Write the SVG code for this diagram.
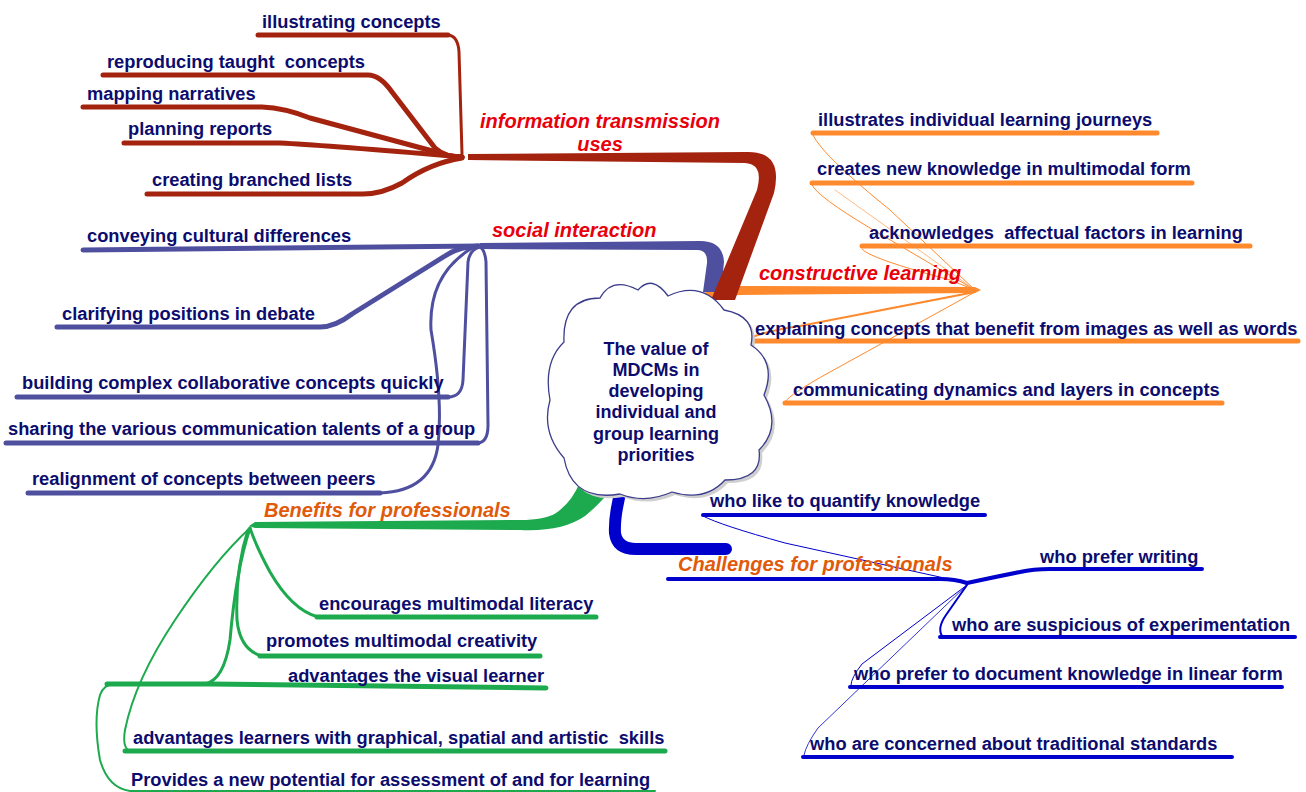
<svg xmlns="http://www.w3.org/2000/svg" width="1306" height="792" viewBox="0 0 1306 792">
<style>
.t{font-family:"Liberation Sans",Arial,sans-serif;font-weight:bold;font-size:18.3px;fill:#0c0c6e}
.c{font-family:"Liberation Sans",Arial,sans-serif;font-weight:bold;font-size:18px;fill:#0c0c6e;text-anchor:middle}
.lr{font-family:"Liberation Sans",Arial,sans-serif;font-weight:bold;font-style:italic;font-size:20px;fill:#e8000b}
.lo{font-family:"Liberation Sans",Arial,sans-serif;font-weight:bold;font-style:italic;font-size:20px;fill:#e05a0a}
.s{fill:none;stroke-linecap:round;stroke-linejoin:round}
.rd{stroke:#a3230f}.pu{stroke:#4f4f9f}.or{stroke:#ff8a2e}.gr{stroke:#1daa4e}.bl{stroke:#0000cc}
.w5{stroke-width:5}.w4{stroke-width:4}.w3{stroke-width:3}.w2{stroke-width:2}.w1{stroke-width:1}
</style>
<rect width="1306" height="792" fill="#fff"/>
<g id="connectors">
  <path fill="#ff8a2e" d="M688,303 Q700,289 740,286 L975,287 L981,290 L975,293 L740,295 Q708,296 694,307 Z"/>
  <path fill="#4f4f9f" d="M480,243 L700,241 Q723,241 724,262 L721,292 L703,292 L707,263 Q708,251 698,250 L480,249 Z"/>
  <path fill="#a3230f" d="M468,154 L745,152 Q784,150 774,193 L735,300 L711,300 L757,190 Q764,164 745,163 L468,160 Z"/>
  <path fill="#1daa4e" d="M580,482 Q572,502 556,513 Q545,520 520,520 L255,522 L249,526 L255,528 L520,530 Q562,532 585,516 Q602,502 612,488 Z"/>
  <path class="s bl" stroke-width="12" d="M622,486 Q614,515 615,533 Q617,549 636,549 L726,549"/>

  <path class="s rd w3" d="M448,35 Q458,36 459,52 L462,154"/>
  <path class="s rd w5" d="M258,35 L448,35"/>
  <path class="s rd w5" d="M103,75 L368,75 Q380,75 392,92 L435,148 Q445,157 462,157"/>
  <path class="s rd w5" d="M83,107 L262,107 Q285,108 310,118 L440,153 Q450,157 462,157"/>
  <path class="s rd w5" d="M124,143 L280,143 Q320,145 440,155 L462,157"/>
  <path class="s rd w5" d="M147,194 L363,194 Q382,194 402,183 Q430,163 462,158"/>

  <path class="s pu w5" d="M83,250 L480,246"/>
  <path class="s pu w5" d="M57,327 L320,327 Q335,327 352,314 L445,256 Q458,247 478,246"/>
  <path class="s pu w3" d="M448,397 Q462,397 463,380 L468,262 Q470,249 480,247"/>
  <path class="s pu w5" d="M17,397 L448,397"/>
  <path class="s pu w3" d="M477,443 Q488,443 488,425 L486,262 Q485,250 480,247"/>
  <path class="s pu w5" d="M6,443 L478,443"/>
  <path class="s pu w3" d="M380,493 Q432,491 438,445 Q443,400 431,330 Q428,275 472,248"/>
  <path class="s pu w5" d="M28,493 L380,493"/>

  <path class="s or w5" d="M813,133 L1157,133"/>
  <path class="s or w1" d="M813,135 Q822,155 890,210 L975,290"/>
  <path class="s or w5" d="M812,183 L1192,183"/>
  <path class="s or w1" d="M812,185 Q818,197 870,228 L975,290"/>
  <path class="s or" stroke-width="0.6" d="M835,190 L975,290"/>
  <path class="s or w5" d="M862,246 L1250,246"/>
  <path class="s or w1" d="M862,249 Q868,258 950,280 L975,290"/>
  <path class="s or w5" d="M748,341 L1298,341"/>
  <path class="s or w2" d="M749,339 Q760,332 800,326 L975,292"/>
  <path class="s or" stroke-width="0.6" d="M880,310 L975,292"/>
  <path class="s or w5" d="M785,403 L1222,403"/>
  <path class="s or w1" d="M785,402 Q790,394 830,372 L975,292"/>

  <path class="s gr w5" d="M317,617 L596,617"/>
  <path class="s gr w3" d="M318,617 Q292,610 270,572 Q256,546 250,528"/>
  <path class="s gr w5" d="M260,656 L540,656"/>
  <path class="s gr w3" d="M262,656 Q240,650 237,620 Q235,570 248,530"/>
  <path class="s gr w5" d="M107,684 L210,684 L546,688"/>
  <path class="s gr w3" d="M205,684 Q224,680 230,640 Q236,570 250,528"/>
  <path class="s gr w5" d="M125,751 L665,751"/>
  <path class="s gr w2" d="M130,751 Q122,748 125,730 Q135,680 175,620 Q215,560 250,528"/>
  <path class="s gr w2" d="M655,791 L130,791 Q108,788 100,760 Q93,720 100,695 Q104,684 115,684"/>

  <path class="s bl w4" d="M668,579 L940,579 Q955,579 967,583"/>
  <path class="s bl w4" d="M967,583 Q995,577 1020,572 Q1033,569 1050,569 L1202,569"/>
  <path class="s bl w4" d="M703,515 L985,515"/>
  <path class="s bl w1" d="M703,516 Q720,525 785,543 L967,583"/>
  <path class="s bl w4" d="M940,637 L1295,637"/>
  <path class="s bl w2" d="M942,636 Q937,628 946,615 L967,585"/>
  <path class="s bl w4" d="M850,687 L1282,687"/>
  <path class="s bl w1" d="M851,685 Q851,678 862,664 L967,585"/>
  <path class="s bl w4" d="M803,757 L1232,757"/>
  <path class="s bl" stroke-width="0.8" d="M804,755 Q806,745 818,728 L967,585"/>
</g>

<g id="center">
  <path fill="#cfcfcf" transform="translate(3,3)" d="M564,458 Q541,432 550,400 Q543,362 564,342 Q562,298 600,298 Q612,276 638,290 Q652,274 668,296 Q702,280 724,310 Q757,316 751,345 Q777,362 764,395 Q782,427 759,450 Q763,480 725,480 Q705,502 672,492 Q645,504 620,494 Q572,502 564,458 Z"/>
  <path fill="#fff" stroke="#3c3c8c" stroke-width="1.3" d="M564,458 Q541,432 550,400 Q543,362 564,342 Q562,298 600,298 Q612,276 638,290 Q652,274 668,296 Q702,280 724,310 Q757,316 751,345 Q777,362 764,395 Q782,427 759,450 Q763,480 725,480 Q705,502 672,492 Q645,504 620,494 Q572,502 564,458 Z"/>
  <text class="c" x="656" y="355">The value of</text>
  <text class="c" x="656" y="376">MDCMs in</text>
  <text class="c" x="656" y="397">developing</text>
  <text class="c" x="656" y="418">individual and</text>
  <text class="c" x="656" y="440">group learning</text>
  <text class="c" x="656" y="461">priorities</text>
</g>

<g id="label-information"><text class="lr" x="600" y="128" text-anchor="middle">information transmission</text><text class="lr" x="600" y="151" text-anchor="middle">uses</text></g>
<g id="label-social"><text class="lr" x="492" y="237">social interaction</text></g>
<g id="label-constructive"><text class="lr" x="759" y="280">constructive learning</text></g>
<g id="label-benefits"><text class="lo" x="264" y="517">Benefits for professionals</text></g>
<g id="label-challenges"><text class="lo" x="678" y="571">Challenges for professionals</text></g>

<g id="n-illustrating"><text class="t" x="262" y="28">illustrating concepts</text></g>
<g id="n-reproducing"><text class="t" x="107" y="68" xml:space="preserve">reproducing taught  concepts</text></g>
<g id="n-mapping"><text class="t" x="87" y="100">mapping narratives</text></g>
<g id="n-planning"><text class="t" x="128" y="135">planning reports</text></g>
<g id="n-creating"><text class="t" x="152" y="186">creating branched lists</text></g>

<g id="n-conveying"><text class="t" x="87" y="242">conveying cultural differences</text></g>
<g id="n-clarifying"><text class="t" x="62" y="320">clarifying positions in debate</text></g>
<g id="n-building"><text class="t" x="22" y="389">building complex collaborative concepts quickly</text></g>
<g id="n-sharing"><text class="t" x="8" y="435">sharing the various communication talents of a group</text></g>
<g id="n-realignment"><text class="t" x="32" y="485">realignment of concepts between peers</text></g>

<g id="n-journeys"><text class="t" x="818" y="126">illustrates individual learning journeys</text></g>
<g id="n-creates"><text class="t" x="817" y="175">creates new knowledge in multimodal form</text></g>
<g id="n-acknowledges"><text class="t" x="869" y="239" xml:space="preserve">acknowledges  affectual factors in learning</text></g>
<g id="n-explaining"><text class="t" x="755" y="335">explaining concepts that benefit from images as well as words</text></g>
<g id="n-communicating"><text class="t" x="793" y="396">communicating dynamics and layers in concepts</text></g>

<g id="n-encourages"><text class="t" x="319" y="610">encourages multimodal literacy</text></g>
<g id="n-promotes"><text class="t" x="266" y="647">promotes multimodal creativity</text></g>
<g id="n-visual"><text class="t" x="288" y="682">advantages the visual learner</text></g>
<g id="n-graphical"><text class="t" x="133" y="744" xml:space="preserve">advantages learners with graphical, spatial and artistic  skills</text></g>
<g id="n-provides"><text class="t" x="131" y="786">Provides a new potential for assessment of and for learning</text></g>

<g id="n-quantify"><text class="t" x="710" y="507">who like to quantify knowledge</text></g>
<g id="n-writing"><text class="t" x="1040" y="563">who prefer writing</text></g>
<g id="n-suspicious"><text class="t" x="952" y="631">who are suspicious of experimentation</text></g>
<g id="n-linear"><text class="t" x="854" y="680">who prefer to document knowledge in linear form</text></g>
<g id="n-traditional"><text class="t" x="810" y="750">who are concerned about traditional standards</text></g>
</svg>
